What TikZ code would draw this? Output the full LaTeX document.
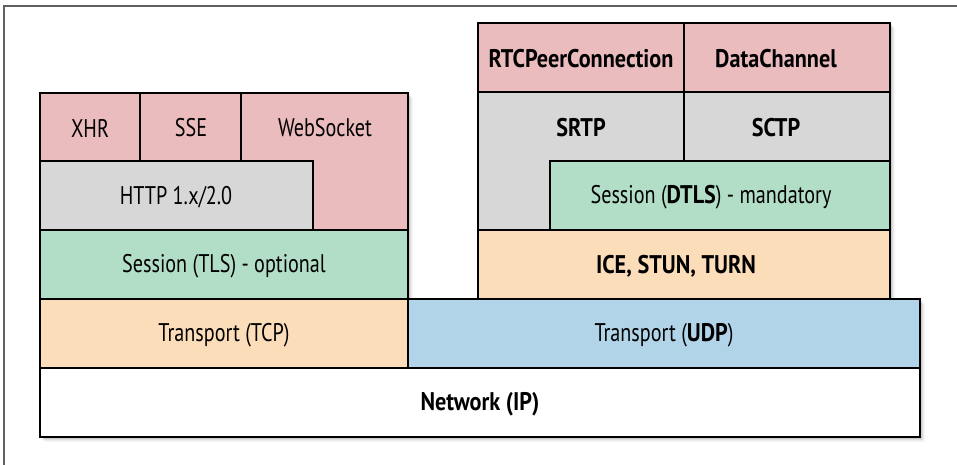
\documentclass[tikz,border=0pt]{standalone}
\usepackage{fontspec}
\setmainfont[FakeStretch=0.79,BoldFeatures={FakeStretch=0.87}]{PT Sans}
\definecolor{pinkc}{HTML}{EBBCBE}
\definecolor{grayc}{HTML}{D7D7D7}
\definecolor{greenc}{HTML}{B2DEC7}
\definecolor{peachc}{HTML}{FCDDB9}
\definecolor{bluec}{HTML}{B2D4E9}
\definecolor{framec}{HTML}{606060}
\begin{document}
\begin{tikzpicture}[x=1pt,y=-1pt,
  box/.style={draw=black,line width=2.5pt,line join=miter},
  lbl/.style={font=\fontsize{25.5}{30}\selectfont,inner sep=0pt,anchor=center}]
\useasboundingbox (0,0) rectangle (957,465);
% frame
\draw[framec,line width=1.5pt] (4,465) -- (4,6) -- (957,6);
% shadow
\foreach \i/\o in {1/0.10,2/0.08,3/0.06,4/0.04,5/0.03}{
  \fill[black,opacity=\o,shift={(\i,\i)}]
    (40,93) -- (408,93) -- (408,299) -- (478,299) -- (478,23) -- (890,23)
    -- (890,299) -- (920,299) -- (920,437) -- (40,437) -- cycle;
}
% left stack
\draw[box,fill=pinkc] (40,93) rectangle (140,161);
\draw[box,fill=pinkc] (140,93) rectangle (241,161);
\draw[box,fill=pinkc] (241,93) -- (408,93) -- (408,230) -- (313,230) -- (313,161) -- (241,161) -- cycle;
\draw[box,fill=grayc] (40,161) rectangle (313,230);
\draw[box,fill=greenc] (40,230) rectangle (408,299);
\draw[box,fill=peachc] (40,299) rectangle (408,368);
% right stack
\draw[box,fill=pinkc] (478,23) rectangle (684,92);
\draw[box,fill=pinkc] (684,23) rectangle (890,92);
\draw[box,fill=grayc] (478,92) -- (684,92) -- (684,161) -- (550,161) -- (550,230) -- (478,230) -- cycle;
\draw[box,fill=grayc] (684,92) rectangle (890,161);
\draw[box,fill=greenc] (550,161) rectangle (890,230);
\draw[box,fill=peachc] (478,230) rectangle (890,299);
% bottom
\draw[box,fill=bluec] (408,299) rectangle (920,368);
\draw[box,fill=white] (40,368) rectangle (920,437);
% labels
\node[lbl] (xhr) at (90,128) {XHR};
\node[lbl] (sse) at (191,128) {SSE};
\node[lbl] (ws) at (325,128) {WebSocket};
\node[lbl] (http) at (176,197) {HTTP 1.x/2.0};
\node[lbl] (tls) at (224,266) {Session (TLS) - optional};
\node[lbl] (tcp) at (224,335) {Transport (TCP)};
\node[lbl] (rtc) at (581,59) {\bfseries RTCPeerConnection};
\node[lbl] (dc) at (776,59) {\bfseries DataChannel};
\node[lbl] (srtp) at (581,128) {\bfseries SRTP};
\node[lbl] (sctp) at (776,128) {\bfseries SCTP};
\node[lbl] (dtls) at (711,197) {Session (\textbf{DTLS}) - mandatory};
\node[lbl] (ice) at (676,266) {\bfseries ICE, STUN, TURN};
\node[lbl] (udp) at (664,335) {Transport (\textbf{UDP})};
\node[lbl] (ip) at (480,404) {\bfseries Network (IP)};
\end{tikzpicture}
\end{document}
